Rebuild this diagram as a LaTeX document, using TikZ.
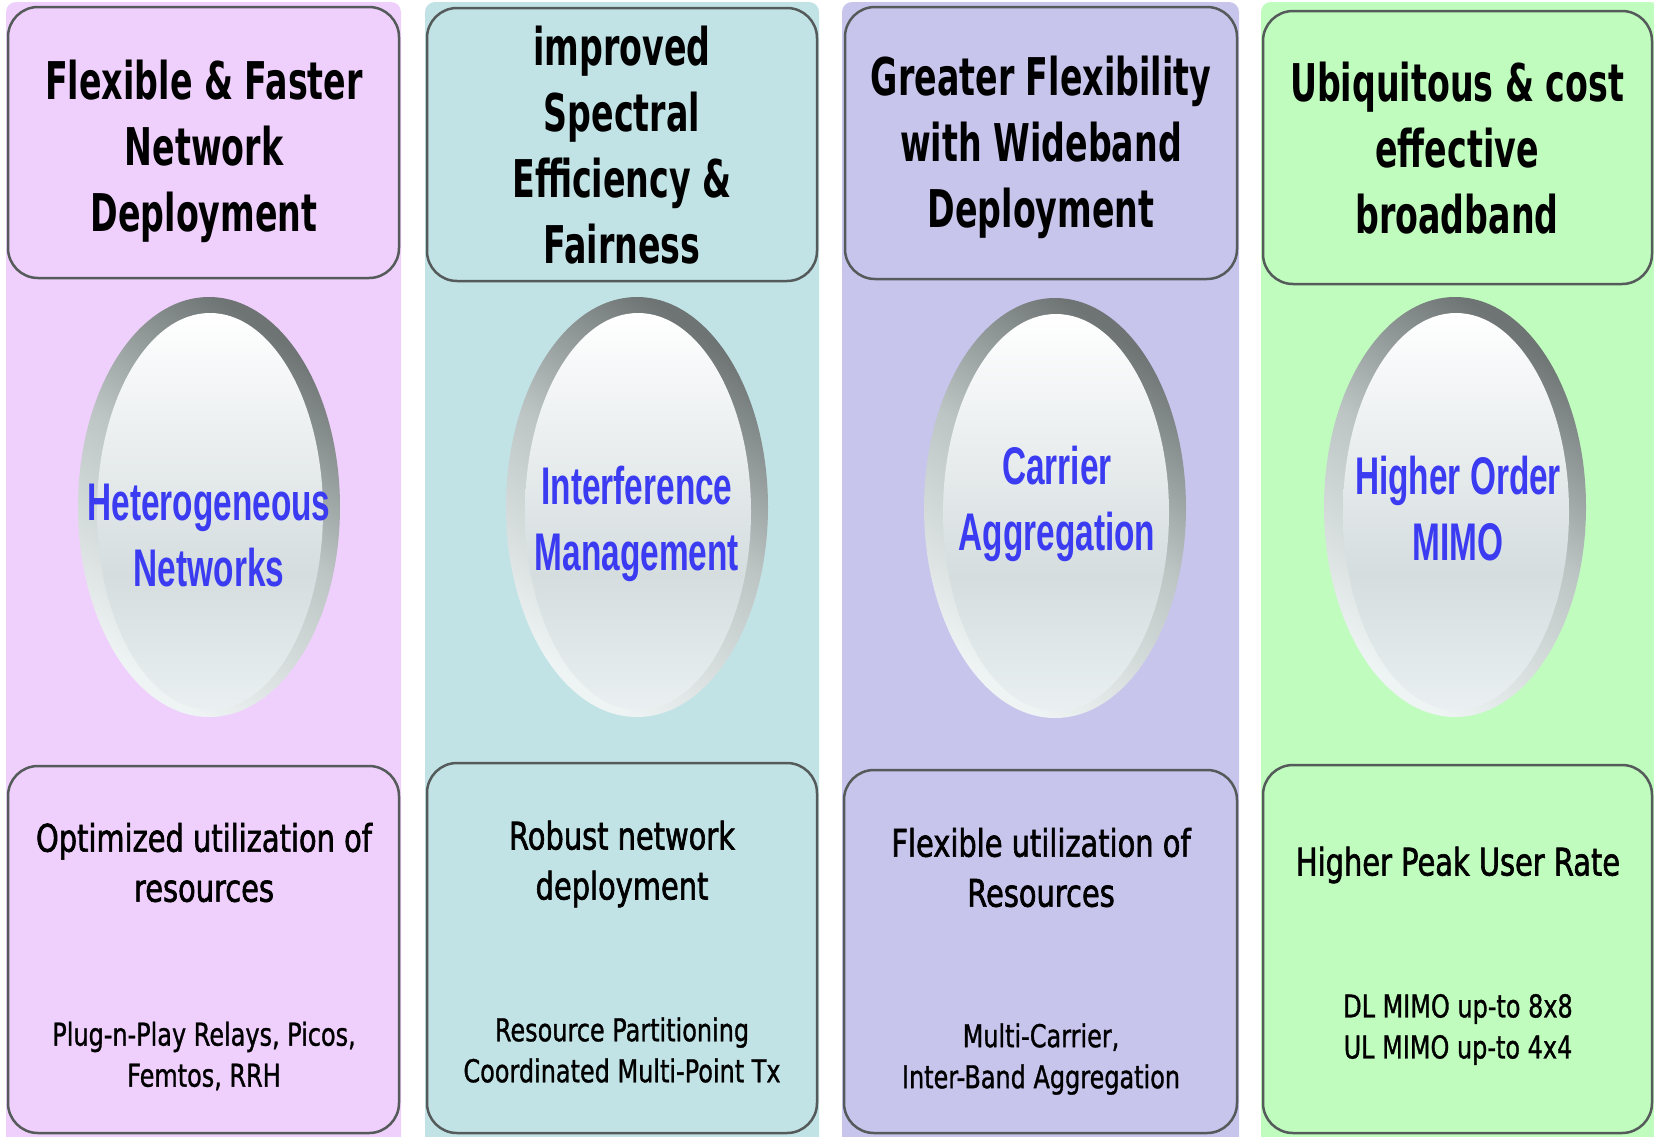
\documentclass[tikz,border=0pt]{standalone}
\usepackage{fontspec}
\usetikzlibrary{shapes.geometric}

% Condensed faces for the text roles
\newfontfamily\hdrfont[FakeStretch=0.64]{DejaVu Sans Bold}
\newfontfamily\lensfont[FakeStretch=0.63]{Liberation Sans Bold}
\newfontfamily\mainbodyfont[FakeStretch=0.76,FakeBold=1.6]{DejaVu Sans}
\newfontfamily\subbodyfont[FakeStretch=0.76,FakeBold=1.0]{DejaVu Sans}

% Column tints
\definecolor{colA}{HTML}{EFD0FC}
\definecolor{colB}{HTML}{C2E3E6}
\definecolor{colC}{HTML}{C7C5EC}
\definecolor{colD}{HTML}{C0FCBE}
\definecolor{boxline}{HTML}{555A5A}
\definecolor{lenstxt}{HTML}{3B3BF2}
% Glass button colours
\definecolor{ringtop}{HTML}{6E7474}
\definecolor{ringmid}{HTML}{BCC4C4}
\definecolor{ringbot}{HTML}{EEF3F3}
\definecolor{lensmid}{HTML}{D5DDDF}
\definecolor{lensbot}{HTML}{EAF0F1}

\pgfdeclareverticalshading{ringglass}{100bp}{color(0bp)=(ringbot); color(25bp)=(ringbot); color(52bp)=(ringmid); color(75bp)=(ringtop); color(100bp)=(ringtop)}
\pgfdeclareverticalshading{lensglass}{100bp}{color(0bp)=(lensbot); color(25bp)=(lensbot); color(42bp)=(lensmid); color(75bp)=(white); color(100bp)=(white)}

\begin{document}
\begin{tikzpicture}[x=1pt,y=-1pt,
  colbg/.style={rounded corners=10pt},
  hdrbox/.style={draw=boxline, line width=2.5pt, rounded corners=30pt, inner sep=0pt},
  btmbox/.style={draw=boxline, line width=2.5pt, rounded corners=30pt, inner sep=0pt},
  ring/.style={ellipse, shading=ringglass, shading angle=-35, minimum width=262pt, minimum height=420pt, inner sep=0pt},
  lens/.style={ellipse, shading=lensglass, minimum width=226pt, minimum height=397pt, inner sep=0pt},
  hdrtext/.style={align=center, inner sep=0pt, font=\hdrfont\fontsize{52pt}{66pt}\selectfont},
  lenstext/.style={align=center, inner sep=0pt, text=lenstxt, font=\lensfont\fontsize{53pt}{66pt}\selectfont},
  maintext/.style={align=center, inner sep=0pt, font=\mainbodyfont\fontsize{38pt}{50pt}\selectfont},
  subtext/.style={align=center, inner sep=0pt, font=\subbodyfont\fontsize{31.5pt}{41pt}\selectfont}
]
\useasboundingbox (0,0) rectangle (1654,1136);

% Column backgrounds
\fill[colbg, colA] (6,2) rectangle (401,1160);
\fill[colbg, colB] (425,2) rectangle (819,1160);
\fill[colbg, colC] (842,2) rectangle (1239,1160);
\fill[colbg, colD] (1261,2) rectangle (1660,1160);

% Header boxes
\node[hdrbox, fill=colA, minimum width=391pt, minimum height=271pt] (h1) at (203.5,142.5) {};
\node[hdrbox, fill=colB, minimum width=390pt, minimum height=273pt] (h2) at (622,144.5) {};
\node[hdrbox, fill=colC, minimum width=392pt, minimum height=272pt] (h3) at (1041,143) {};
\node[hdrbox, fill=colD, minimum width=389pt, minimum height=273pt] (h4) at (1457.5,147.5) {};

\node[hdrtext] (h1t) at (204,151.5) {Flexible \& Faster\\Network\\Deployment};
\node[hdrtext] (h2t) at (622,145) {improved\\Spectral\\Efficiency \&\\Fairness};
\node[hdrtext] (h3t) at (1041,147.5) {Greater Flexibility\\with Wideband\\Deployment};
\node[hdrtext] (h4t) at (1457,148) {Ubiquitous \& cost\\effective\\broadband};

% Glass buttons
\node[ring] (r1) at (209,507) {};
\node[lens] (l1) at (210,511.5) {};
\node[lenstext] (t1) at (209,535.5) {Heterogeneous\\Networks};

\node[ring] (r2) at (637,507) {};
\node[lens] (l2) at (638,511.5) {};
\node[lenstext] (t2) at (637,523.5) {Interference\\Management};

\node[ring] (r3) at (1055,508) {};
\node[lens] (l3) at (1056,512.5) {};
\node[lenstext] (t3) at (1057,503.5) {Carrier\\Aggregation};

\node[ring] (r4) at (1455,507) {};
\node[lens] (l4) at (1456,511.5) {};
\node[lenstext] (t4) at (1458,509) {Higher Order\\MIMO};

% Benefit boxes
\node[btmbox, fill=colA, minimum width=391pt, minimum height=367pt] (b1) at (203.5,949.5) {};
\node[btmbox, fill=colB, minimum width=390pt, minimum height=370pt] (b2) at (622,948) {};
\node[btmbox, fill=colC, minimum width=393pt, minimum height=363pt] (b3) at (1040.5,951.5) {};
\node[btmbox, fill=colD, minimum width=389pt, minimum height=368pt] (b4) at (1457.5,949) {};

\node[maintext] (m1) at (204,862.5) {Optimized utilization of\\resources};
\node[maintext] (m2) at (622,864) {Robust network\\deployment};
\node[maintext] (m3) at (1041,867.5) {Flexible utilization of\\Resources};
\node[maintext] (m4) at (1458,865) {Higher Peak User Rate};

\node[subtext] (s1) at (204,1056) {Plug-n-Play Relays, Picos,\\Femtos, RRH};
\node[subtext] (s2) at (622,1050) {Resource Partitioning\\Coordinated Multi-Point Tx};
\node[subtext] (s3) at (1041,1059) {Multi-Carrier,\\Inter-Band Aggregation};
\node[subtext] (s4) at (1458,1029.5) {DL MIMO up-to 8x8\\UL MIMO up-to 4x4};
\end{tikzpicture}
\end{document}
